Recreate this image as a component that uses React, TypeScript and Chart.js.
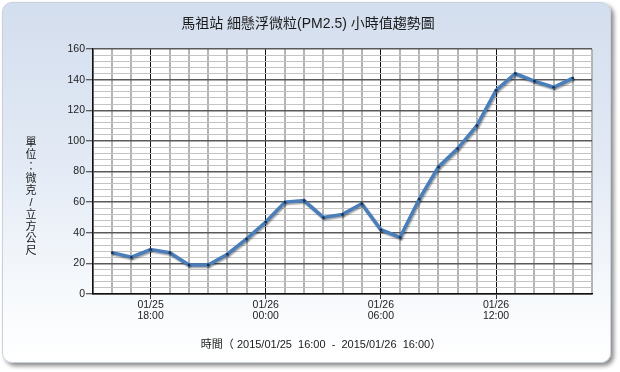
import React, { useEffect, useRef } from 'react';
import { Chart, registerables } from 'chart.js';

Chart.register(...registerables);

const chartTitle = '馬祖站 細懸浮微粒(PM2.5) 小時值趨勢圖';
const yTitleChars = ['單', '位', '：', '微', '克', '/', '立', '方', '公', '尺'];
const xTitle = '時間（ 2015/01/25  16:00  -  2015/01/26  16:00）';

// hourly observation times (16:00 on 01/25 to 16:00 on 01/26)
const timeLabels = [
  '01/25 16:00', '01/25 17:00', '01/25 18:00', '01/25 19:00', '01/25 20:00',
  '01/25 21:00', '01/25 22:00', '01/25 23:00', '01/26 00:00', '01/26 01:00',
  '01/26 02:00', '01/26 03:00', '01/26 04:00', '01/26 05:00', '01/26 06:00',
  '01/26 07:00', '01/26 08:00', '01/26 09:00', '01/26 10:00', '01/26 11:00',
  '01/26 12:00', '01/26 13:00', '01/26 14:00', '01/26 15:00', '01/26 16:00',
];
const pm25Values = [
  27, 24, 29, 27, 19, 19, 26, 36, 47, 60, 61, 50, 52, 59, 42, 37, 62, 83, 95, 110,
  133, 144, 139, 135, 141,
];
// labelled hours on the x axis
const labelledTimes = ['01/25 18:00', '01/26 00:00', '01/26 06:00', '01/26 12:00'];
const yMajorTicks = [0, 20, 40, 60, 80, 100, 120, 140, 160];

const numFont = "'Liberation Sans', 'Noto Sans CJK TC', sans-serif";
const cjkFont = "'Liberation Sans', 'Noto Sans CJK TC', sans-serif";

export default function App() {
  const ref = useRef<HTMLCanvasElement | null>(null);

  useEffect(() => {
    if (!ref.current) return;
    // x position 0 = one hour before the first observation
    const posOf = (label: string) => timeLabels.indexOf(label) + 1;
    const majorX = labelledTimes.map(posOf);
    const isMajorX = (v: number) => (v - 3) % 6 === 0;

    const decor = {
      id: 'decor',
      beforeDraw(chart: any) {
        const { ctx, chartArea } = chart;
        ctx.save();
        ctx.fillStyle = '#ffffff';
        ctx.fillRect(chartArea.left, chartArea.top, chartArea.right - chartArea.left, chartArea.bottom - chartArea.top);
        ctx.restore();
      },
      beforeDatasetDraw(chart: any) {
        const ctx = chart.ctx;
        ctx.save();
        ctx.shadowColor = 'rgba(0,0,0,0.35)';
        ctx.shadowOffsetX = 1;
        ctx.shadowOffsetY = 1.5;
        ctx.shadowBlur = 1.5;
      },
      afterDatasetDraw(chart: any) {
        chart.ctx.restore();
      },
      afterDraw(chart: any) {
        const ctx = chart.ctx;
        ctx.save();
        ctx.fillStyle = '#1a1a1a';
        ctx.textAlign = 'center';
        ctx.textBaseline = 'middle';
        ctx.font = `14px ${cjkFont}`;
        ctx.fillText(chartTitle, 308, 24);
        ctx.font = `11px ${cjkFont}`;
        ctx.fillText(xTitle, 321, 345);
        ctx.font = `11px ${cjkFont}`;
        yTitleChars.forEach((c, i) => {
          ctx.fillText(c, 31, 143 + i * 12);
        });
        ctx.restore();
      },
    };

    const chart = new Chart(ref.current, {
      type: 'line',
      data: {
        datasets: [
          {
            data: pm25Values.map((v, i) => ({ x: posOf(timeLabels[i]), y: v })),
            borderColor: '#4a7ebb',
            borderWidth: 3.5,
            pointRadius: 1.3,
            pointBackgroundColor: '#1c2f4a',
            pointBorderWidth: 0,
            tension: 0,
            fill: false,
          },
        ],
      },
      options: {
        animation: false,
        responsive: false,
        layout: { padding: { left: 0, top: 49, right: 28, bottom: 0 } },
        plugins: { legend: { display: false }, tooltip: { enabled: false }, title: { display: false } },
        scales: {
          x: {
            type: 'linear',
            min: 0,
            max: timeLabels.length + 1,
            afterFit: (s: any) => { s.height = 78; },
            ticks: {
              stepSize: 1,
              autoSkip: false,
              maxRotation: 0,
              padding: 1,
              color: '#222',
              font: { family: numFont, size: 10.5, lineHeight: 1.05 },
              callback: (v: any) => {
                const idx = majorX.indexOf(Number(v));
                if (idx < 0) return '';
                return labelledTimes[idx].split(' ');
              },
            },
            grid: {
              color: (c: any) => (isMajorX(c.tick.value) ? '#111' : '#b4b4b4'),
              lineWidth: (c: any) => (isMajorX(c.tick.value) ? 1 : 2),
              tickColor: (c: any) => (isMajorX(c.tick.value) ? '#333' : 'rgba(0,0,0,0)'),
              tickWidth: 1,
              tickLength: 5,
            },
            border: { color: '#111', width: 1.5 },
          },
          y: {
            min: 0,
            max: 160,
            afterFit: (s: any) => { s.width = 93; },
            ticks: {
              stepSize: 4,
              autoSkip: false,
              padding: 1,
              color: '#222',
              font: { family: numFont, size: 10.5 },
              callback: (v: any) => (yMajorTicks.includes(Number(v)) ? String(v) : ''),
            },
            grid: {
              color: (c: any) => (yMajorTicks.includes(c.tick.value) ? '#5a5a5a' : '#c4c4c4'),
              lineWidth: (c: any) => (yMajorTicks.includes(c.tick.value) ? 1.5 : 1),
              tickColor: (c: any) => (yMajorTicks.includes(c.tick.value) ? '#333' : 'rgba(0,0,0,0)'),
              tickWidth: 1,
              tickLength: 7,
            },
            border: { color: '#111', width: 1.5 },
          },
        },
      },
      plugins: [decor],
    } as any);
    return () => chart.destroy();
  }, []);

  return (
    <div style={{ position: 'absolute', left: 0, top: 0, width: 620, height: 372, background: '#ffffff' }}>
      <div
        style={{
          position: 'absolute',
          left: 2,
          top: 2,
          width: 607,
          height: 359,
          borderRadius: 10,
          border: '1px solid #c9d1dc',
          background: 'linear-gradient(to bottom, #d3deee 0%, #e3eaf5 45%, #f6f9fc 80%, #ffffff 100%)',
          boxShadow: '3px 3px 4px rgba(0,0,0,0.45)',
        }}
      />
      <canvas ref={ref} width={620} height={372} style={{ position: 'absolute', left: 0, top: 0 }} />
    </div>
  );
}
